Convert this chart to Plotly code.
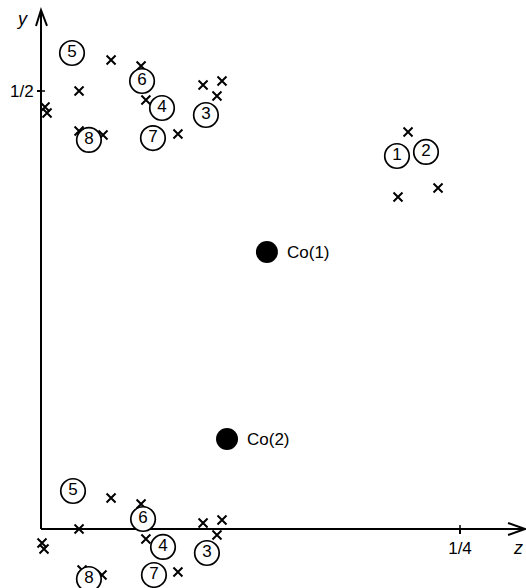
import plotly.graph_objects as go

# Fractional coordinates
cross_z = [0.0418, 0.0597, 0.0227, 0.0626, 0.0967, 0.1080, 0.1050, 0.0817, 0.0227, 0.0370, 0.0024, 0.0036,
           0.2190, 0.2130, 0.2369,
           0.0418, 0.0597, 0.0227, 0.0626, 0.0967, 0.1080, 0.1050, 0.0817, 0.0245, 0.0364, 0.0006, 0.0018]
cross_y = [0.5354, 0.5285, 0.5000, 0.4897, 0.5068, 0.5114, 0.4943, 0.4509, 0.4543, 0.4498, 0.4817, 0.4749,
           0.4532, 0.3790, 0.3893,
           0.0354, 0.0285, 0.0000, -0.0114, 0.0068, 0.0103, -0.0068, -0.0491, -0.0468, -0.0525, -0.0160, -0.0228]

atom_labels = ["5", "6", "4", "3", "7", "8", "1", "2", "5", "6", "4", "3", "7", "8"]
atom_z = [0.0185, 0.0603, 0.0722, 0.0984, 0.0668, 0.0286, 0.2124, 0.2297,
          0.0191, 0.0609, 0.0728, 0.0990, 0.0674, 0.0286]
atom_y = [0.5434, 0.5114, 0.4806, 0.4726, 0.4463, 0.4441, 0.4258, 0.4304,
          0.0434, 0.0114, -0.0205, -0.0274, -0.0525, -0.0571]

co_labels = ["Co(1)", "Co(2)"]
co_z = [0.1348, 0.1110]
co_y = [0.3162, 0.1027]

z_ticks = [0.25]
z_tick_labels = ["1/4"]
y_ticks = [0.5]
y_tick_labels = ["1/2"]
z_range = [-0.02446, 0.28938]
y_range = [-0.06735, 0.60388]
z_axis_end = 0.2888
y_axis_end = 0.5925

FONT = "Liberation Sans"
INK = "#000000"

fig = go.Figure()
fig.add_trace(go.Scatter(
    x=cross_z, y=cross_y, mode="markers", cliponaxis=False, showlegend=False,
    marker=dict(symbol="x-thin", size=9, line=dict(width=2, color=INK), color=INK),
))
fig.add_trace(go.Scatter(
    x=atom_z, y=atom_y, mode="markers+text", cliponaxis=False, showlegend=False,
    text=atom_labels, textposition="middle center",
    textfont=dict(family=FONT, size=17, color=INK),
    marker=dict(symbol="circle", size=24.5, color="white", line=dict(width=1.7, color=INK)),
))
fig.add_trace(go.Scatter(
    x=co_z, y=co_y, mode="markers", cliponaxis=False, showlegend=False,
    marker=dict(symbol="circle", size=22, color=INK),
))

fig.update_xaxes(range=z_range, tickmode="array", tickvals=z_ticks, ticktext=z_tick_labels,
                 anchor="free", position=59 / 588,
                 showgrid=False, zeroline=False, showline=False,
                 ticks="outside", ticklen=4, tickwidth=1.5, tickcolor=INK,
                 tickfont=dict(family=FONT, size=17, color=INK))
fig.update_yaxes(range=y_range, tickmode="array", tickvals=y_ticks, ticktext=y_tick_labels,
                 anchor="free", position=41 / 526,
                 showgrid=False, zeroline=False, showline=False,
                 ticks="outside", ticklen=4, tickwidth=1.5, tickcolor=INK,
                 tickfont=dict(family=FONT, size=17, color=INK))

line = dict(color=INK, width=2)
shapes = [
    dict(type="line", xref="x", yref="y", layer="below", line=line, x0=0, y0=0, x1=0, y1=y_axis_end),
    dict(type="line", xref="x", yref="y", layer="below", line=line, x0=0, y0=0, x1=z_axis_end, y1=0),
    dict(type="path", xref="x", yref="y", xsizemode="pixel", ysizemode="pixel",
         xanchor=0, yanchor=y_axis_end, layer="below", line=line, path="M -5 -16 L 0 0 L 6 -16"),
    dict(type="path", xref="x", yref="y", xsizemode="pixel", ysizemode="pixel",
         xanchor=z_axis_end, yanchor=0, layer="below", line=line, path="M -17 -6 L 0 0 L -17 6"),
    dict(type="path", xref="x", yref="y", xsizemode="pixel", ysizemode="pixel",
         xanchor=z_ticks[0], yanchor=0, layer="below", line=dict(color=INK, width=1.5), path="M 0 0 L 0 4"),
    dict(type="path", xref="x", yref="y", xsizemode="pixel", ysizemode="pixel",
         xanchor=0, yanchor=y_ticks[0], layer="below", line=dict(color=INK, width=1.5), path="M 0 0 L 4 0"),
]

annotations = [
    dict(text="<i>y</i>", xref="x", yref="y", x=-0.0113, y=0.5822,
         showarrow=False, font=dict(family=FONT, size=18, color=INK)),
    dict(text="<i>z</i>", xref="x", yref="y", x=0.2846, y=-0.0217,
         showarrow=False, font=dict(family=FONT, size=18, color=INK)),
]
for label, z, y in zip(co_labels, co_z, co_y):
    annotations.append(dict(text=label, xref="x", yref="y", x=z, y=y, xanchor="left", xshift=18,
                            showarrow=False, font=dict(family=FONT, size=17, color=INK)))

fig.update_layout(
    width=526, height=588, margin=dict(l=0, r=0, t=0, b=0, pad=0),
    paper_bgcolor="white", plot_bgcolor="white", showlegend=False,
    annotations=annotations, shapes=shapes,
)

fig.write_html("out.html", config={"displayModeBar": False},
               post_script="document.body.style.margin='0';document.body.style.overflow='hidden';")
